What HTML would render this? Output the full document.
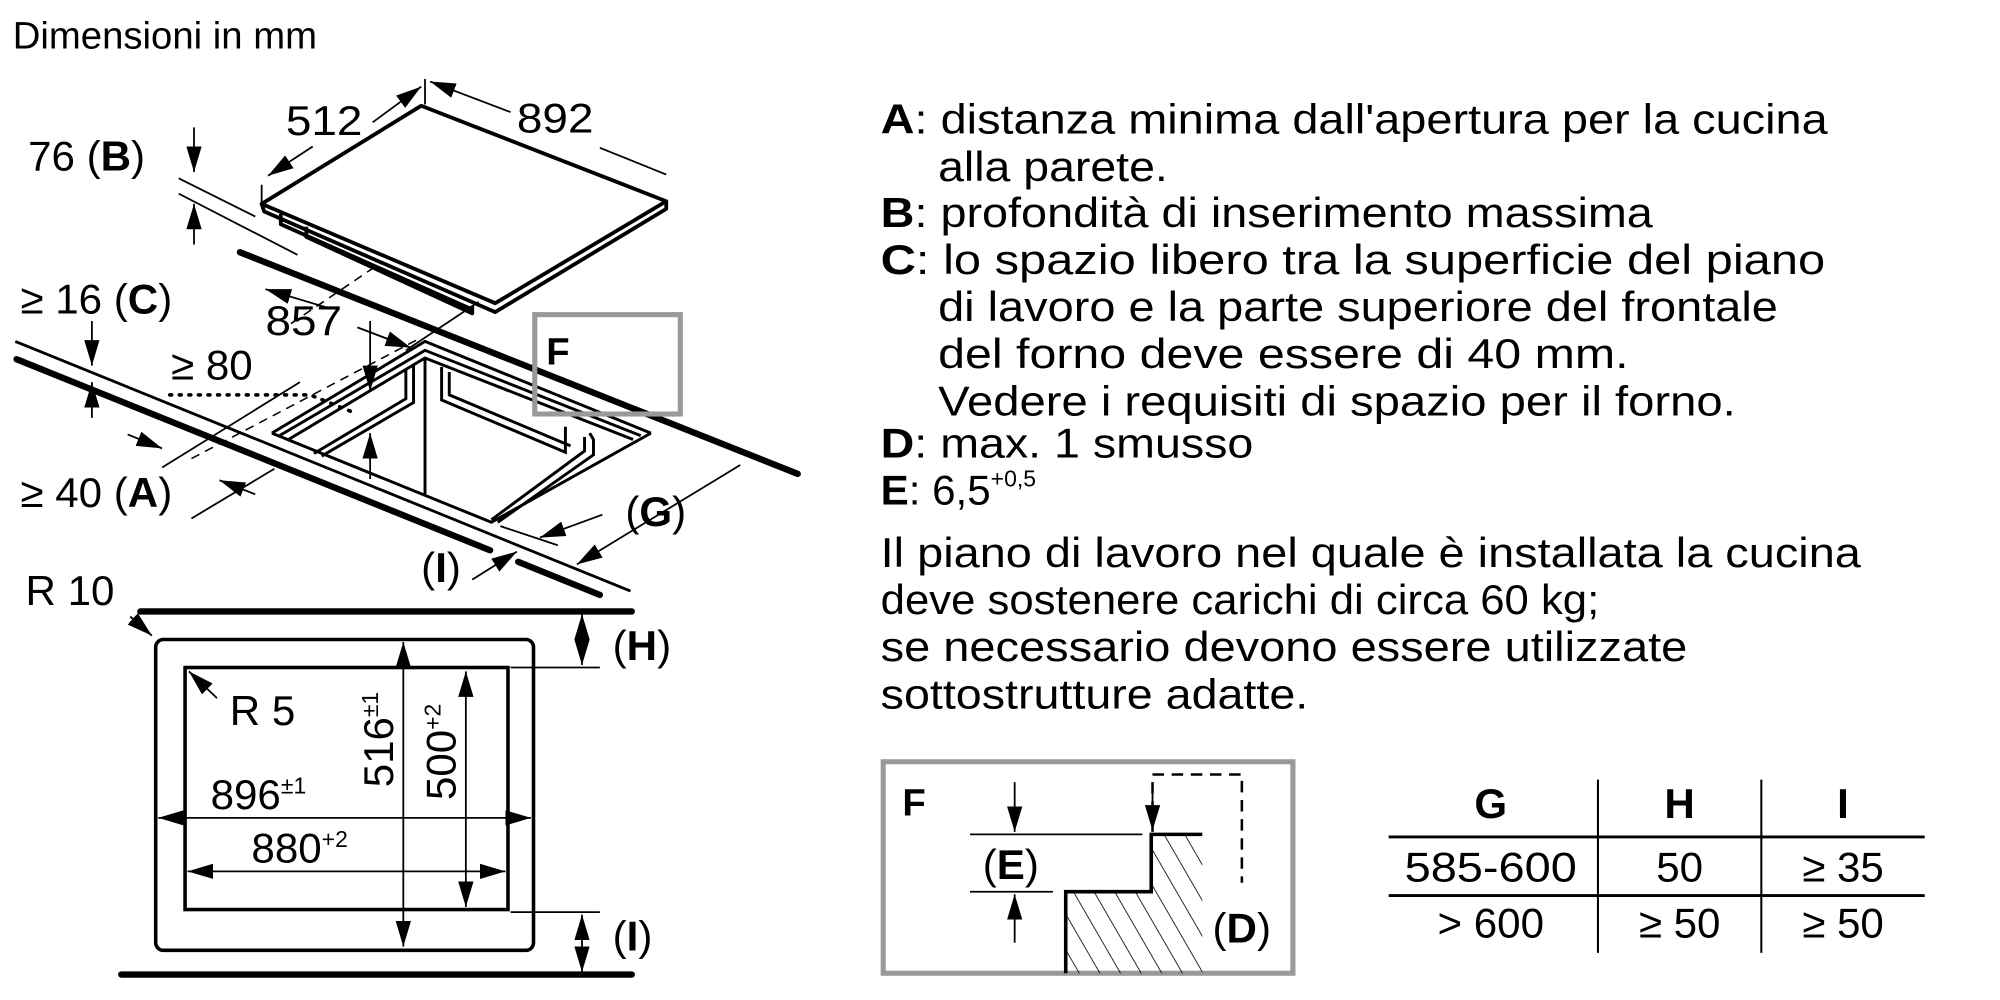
<!DOCTYPE html>
<html><head><meta charset="utf-8"><style>
html,body{margin:0;padding:0;background:#fff;}
svg{display:block;}
text{font-family:"Liberation Sans",sans-serif;fill:#000;}
</style></head><body>
<svg width="2000" height="1000" viewBox="0 0 1567 785" preserveAspectRatio="none" xmlns="http://www.w3.org/2000/svg">
<defs>
<marker id="ar" viewBox="0 0 10 10" preserveAspectRatio="none" refX="10" refY="5" markerWidth="20" markerHeight="12" markerUnits="userSpaceOnUse" orient="auto"><path d="M0,0 L10,5 L0,10 z" fill="#000"/></marker>
<marker id="al" viewBox="0 0 10 10" preserveAspectRatio="none" refX="0" refY="5" markerWidth="20" markerHeight="12" markerUnits="userSpaceOnUse" orient="auto"><path d="M10,0 L0,5 L10,10 z" fill="#000"/></marker>
<pattern id="hatch" width="14" height="14" patternUnits="userSpaceOnUse" patternTransform="rotate(-30)"><line x1="0" y1="0" x2="0" y2="14" stroke="#000" stroke-width="1.3"/></pattern>
</defs>

<text x="10" y="38" font-size="30">Dimensioni in mm</text>

<g stroke="#000" fill="none" stroke-width="3" stroke-linejoin="round">
<polygon points="205,160 330,83 522,158 388,238" fill="#fff"/>
<polyline points="205,160 207,166 388,245 522,164 522,158"/>
<polyline points="220,168 220,176 370,243"/>
<polyline points="240,178 240,186 370,246 370,240"/>
</g>
<g stroke="#000" stroke-width="1.4" fill="none">
<line x1="333" y1="62" x2="333" y2="82"/>
<line x1="205" y1="145" x2="205" y2="160"/>
<line x1="292" y1="96" x2="330" y2="68" marker-end="url(#ar)"/>
<line x1="245" y1="115" x2="210" y2="138" marker-end="url(#ar)"/>
<line x1="400" y1="88" x2="337" y2="64" marker-end="url(#ar)"/>
<line x1="470" y1="116" x2="522" y2="137"/>
<line x1="140" y1="140" x2="200" y2="170"/>
<line x1="140" y1="152" x2="233" y2="200"/>
<line x1="152" y1="100" x2="152" y2="135" marker-end="url(#ar)"/>
<line x1="152" y1="192" x2="152" y2="160" marker-end="url(#ar)"/>
<line x1="258" y1="242" x2="208" y2="227" marker-end="url(#ar)"/>
<line x1="280" y1="257" x2="322" y2="273" marker-end="url(#ar)"/>
<line x1="318" y1="275" x2="375" y2="237"/>
<line x1="72" y1="252" x2="72" y2="287" marker-end="url(#ar)"/>
<line x1="72" y1="328" x2="72" y2="300" marker-end="url(#ar)"/>
<line x1="100" y1="341" x2="127" y2="352" marker-end="url(#ar)"/>
<line x1="200" y1="388" x2="172" y2="377" marker-end="url(#ar)"/>
<line x1="127" y1="367" x2="235" y2="300"/>
<line x1="150" y1="407" x2="215" y2="368"/>
<line x1="290" y1="252" x2="290" y2="307" marker-end="url(#ar)"/>
<line x1="290" y1="376" x2="290" y2="340" marker-end="url(#ar)"/>
<line x1="472" y1="404" x2="423" y2="422" marker-end="url(#ar)"/>
<line x1="392" y1="413" x2="437" y2="428"/>
<line x1="370" y1="455" x2="405" y2="433" marker-end="url(#ar)"/>
<line x1="580" y1="365" x2="452" y2="443" marker-end="url(#ar)"/>
</g>
<line x1="228" y1="254" x2="296" y2="208" stroke="#000" stroke-width="1.2" stroke-dasharray="7,5"/>
<line x1="150" y1="360" x2="330" y2="265" stroke="#000" stroke-width="1.2" stroke-dasharray="7,5"/>
<path d="M133,310 L243,310 L280,325" stroke="#000" stroke-width="2.8" stroke-dasharray="1.5,6" fill="none" stroke-linecap="round"/>

<g stroke="#000" fill="none">
<line x1="188" y1="198" x2="625" y2="372" stroke-width="5" stroke-linecap="round"/>
<line x1="12" y1="268" x2="494" y2="464" stroke-width="2.2"/>
<line x1="13" y1="282" x2="384" y2="432" stroke-width="5" stroke-linecap="round"/>
<line x1="406" y1="441" x2="470" y2="467" stroke-width="5" stroke-linecap="round"/>
</g>
<g stroke="#000" fill="none" stroke-width="2.3">
<polyline points="213,340 333,268 510,340"/>
<polyline points="219,342 333,275 502,342"/>
<polyline points="226,345 333,281 496,345"/>
<polyline points="213,340 385,410 510,340"/>
<line x1="333" y1="281" x2="333" y2="388"/>
<polyline points="318,290 318,313 246,356"/>
<polyline points="324,287 324,316 252,358"/>
<polyline points="346,288 346,314 443,355 443,335"/>
<polyline points="352,292 352,310 447,350"/>
<polyline points="458,343 458,354 385,408"/>
<polyline points="462,340 465,345 465,357 390,410"/>
</g>
<rect x="419" y="247" width="114" height="78" fill="none" stroke="#999" stroke-width="4"/>
<text x="428" y="286" font-size="30" font-weight="bold">F</text>

<g font-size="33">
<text x="22" y="134">76 (<tspan font-weight="bold">B</tspan>)</text>
<text x="224" y="106" textLength="60" lengthAdjust="spacingAndGlyphs">512</text>
<text x="405" y="104" textLength="60" lengthAdjust="spacingAndGlyphs">892</text>
<text x="16" y="246">≥ 16 (<tspan font-weight="bold">C</tspan>)</text>
<text x="208" y="263" textLength="60" lengthAdjust="spacingAndGlyphs">857</text>
<text x="134" y="298">≥ 80</text>
<text x="16" y="398">≥ 40 (<tspan font-weight="bold">A</tspan>)</text>
<text x="490" y="413">(<tspan font-weight="bold">G</tspan>)</text>
<text x="330" y="457">(<tspan font-weight="bold">I</tspan>)</text>
<text x="20" y="475">R 10</text>
</g>

<g stroke="#000" fill="none">
<line x1="110" y1="480" x2="495" y2="480" stroke-width="5" stroke-linecap="round"/>
<line x1="95" y1="765" x2="495" y2="765" stroke-width="5" stroke-linecap="round"/>
<rect x="122" y="502" width="296" height="244" rx="6" stroke-width="2.8"/>
<rect x="145" y="524" width="253" height="190" stroke-width="2.8"/>
</g>
<g stroke="#000" stroke-width="1.4" fill="none">
<line x1="102" y1="484" x2="119" y2="499" marker-end="url(#ar)"/>
<line x1="170" y1="548" x2="148" y2="527" marker-end="url(#ar)"/>
<line x1="316" y1="504" x2="316" y2="743" marker-start="url(#al)" marker-end="url(#ar)"/>
<line x1="365" y1="527" x2="365" y2="712" marker-start="url(#al)" marker-end="url(#ar)"/>
<line x1="124" y1="642" x2="416" y2="642" marker-start="url(#al)" marker-end="url(#ar)"/>
<line x1="147" y1="684" x2="396" y2="684" marker-start="url(#al)" marker-end="url(#ar)"/>
<line x1="400" y1="524" x2="470" y2="524"/>
<line x1="400" y1="716" x2="470" y2="716"/>
<line x1="456" y1="482" x2="456" y2="522" marker-start="url(#al)" marker-end="url(#ar)"/>
<line x1="456" y1="718" x2="456" y2="763" marker-start="url(#al)" marker-end="url(#ar)"/>
</g>
<text x="180" y="569" font-size="33">R 5</text>
<text x="165" y="635" font-size="33">896<tspan font-size="18" dy="-12">±1</tspan></text>
<text x="197" y="677" font-size="33">880<tspan font-size="18" dy="-12">+2</tspan></text>
<text transform="translate(308,618) rotate(-90)" font-size="33">516<tspan font-size="18" dy="-12">±1</tspan></text>
<text transform="translate(357,628) rotate(-90)" font-size="33">500<tspan font-size="18" dy="-12">+2</tspan></text>
<text x="480" y="518" font-size="33">(<tspan font-weight="bold">H</tspan>)</text>
<text x="480" y="746" font-size="33">(<tspan font-weight="bold">I</tspan>)</text>

<g font-size="33">
<text x="690" y="105" textLength="742" lengthAdjust="spacingAndGlyphs"><tspan font-weight="bold">A</tspan>: distanza minima dall'apertura per la cucina</text>
<text x="735" y="142" textLength="180" lengthAdjust="spacingAndGlyphs">alla parete.</text>
<text x="690" y="178" textLength="605" lengthAdjust="spacingAndGlyphs"><tspan font-weight="bold">B</tspan>: profondità di inserimento massima</text>
<text x="690" y="215" textLength="740" lengthAdjust="spacingAndGlyphs"><tspan font-weight="bold">C</tspan>: lo spazio libero tra la superficie del piano</text>
<text x="735" y="252" textLength="658" lengthAdjust="spacingAndGlyphs">di lavoro e la parte superiore del frontale</text>
<text x="735" y="289" textLength="541" lengthAdjust="spacingAndGlyphs">del forno deve essere di 40 mm.</text>
<text x="735" y="326" textLength="625" lengthAdjust="spacingAndGlyphs">Vedere i requisiti di spazio per il forno.</text>
<text x="690" y="359" textLength="292" lengthAdjust="spacingAndGlyphs"><tspan font-weight="bold">D</tspan>: max. 1 smusso</text>
<text x="690" y="396"><tspan font-weight="bold">E</tspan>: 6,5<tspan font-size="18" dy="-14">+0,5</tspan></text>
<text x="690" y="445" textLength="768" lengthAdjust="spacingAndGlyphs">Il piano di lavoro nel quale è installata la cucina</text>
<text x="690" y="482" textLength="563" lengthAdjust="spacingAndGlyphs">deve sostenere carichi di circa 60 kg;</text>
<text x="690" y="519" textLength="632" lengthAdjust="spacingAndGlyphs">se necessario devono essere utilizzate</text>
<text x="690" y="556" textLength="335" lengthAdjust="spacingAndGlyphs">sottostrutture adatte.</text>
</g>

<rect x="692" y="598" width="321" height="166" fill="none" stroke="#999" stroke-width="4"/>
<text x="707" y="640" font-size="30" font-weight="bold">F</text>
<path d="M835,764 L835,700 L902,700 L902,655 L942,655 L942,764 Z" fill="url(#hatch)"/>
<polyline points="835,764 835,700 902,700 902,655 942,655" fill="none" stroke="#000" stroke-width="2.8"/>
<polyline points="903,653 903,608 973,608 973,693" fill="none" stroke="#000" stroke-width="2" stroke-dasharray="9,6"/>
<g stroke="#000" stroke-width="1.4" fill="none">
<line x1="760" y1="655" x2="895" y2="655"/>
<line x1="760" y1="700" x2="825" y2="700"/>
<line x1="795" y1="614" x2="795" y2="653" marker-end="url(#ar)"/>
<line x1="795" y1="740" x2="795" y2="702" marker-end="url(#ar)"/>
<line x1="903" y1="615" x2="903" y2="652" marker-end="url(#ar)"/>
</g>
<text x="770" y="690" font-size="33">(<tspan font-weight="bold">E</tspan>)</text>
<text x="950" y="740" font-size="33">(<tspan font-weight="bold">D</tspan>)</text>

<g stroke="#000" stroke-width="2.2">
<line x1="1088" y1="657" x2="1508" y2="657"/>
<line x1="1088" y1="703" x2="1508" y2="703"/>
<line x1="1252" y1="612" x2="1252" y2="748" stroke-width="1.6"/>
<line x1="1380" y1="612" x2="1380" y2="748" stroke-width="1.6"/>
</g>
<g font-size="33" text-anchor="middle">
<text x="1168" y="642" font-weight="bold">G</text>
<text x="1316" y="642" font-weight="bold">H</text>
<text x="1444" y="642" font-weight="bold">I</text>
<text x="1168" y="692" textLength="135" lengthAdjust="spacingAndGlyphs">585-600</text>
<text x="1316" y="692">50</text>
<text x="1444" y="692">≥ 35</text>
<text x="1168" y="736">&gt; 600</text>
<text x="1316" y="736">≥ 50</text>
<text x="1444" y="736">≥ 50</text>
</g>
</svg>
</body></html>
